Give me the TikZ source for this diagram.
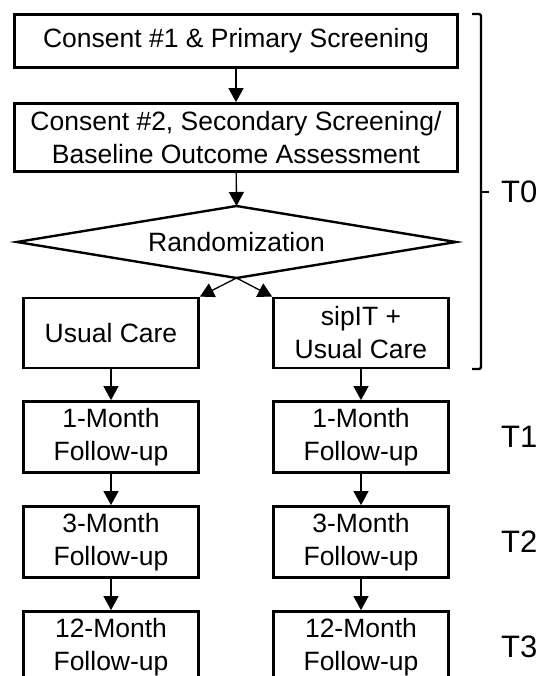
\documentclass[tikz,border=0pt]{standalone}
\usepackage{fontspec}
\setmainfont{Liberation Sans}
\usetikzlibrary{arrows.meta}
\begin{document}
\begin{tikzpicture}[x=1pt,y=-1pt,
  txt/.style={font=\fontsize{26.5}{33}\selectfont},
  box/.style={draw, line width=2.8pt, inner sep=0pt, align=center, txt},
  wide/.style={box, minimum width=443pt},
  narrow/.style={box, minimum width=175pt, minimum height=70pt},
  fup/.style={box, minimum width=175pt, minimum height=71pt},
  arr/.style={line width=1.3pt, -{Triangle[length=14pt,width=15pt]}},
  brk/.style={line width=2.4pt, rounded corners=1.5pt},
  tlabel/.style={font=\fontsize{31}{36}\selectfont, anchor=west, inner sep=0pt}]
\useasboundingbox (0,0) rectangle (539,676);
\fill[white] (0,0) rectangle (539,676);

\node[wide, minimum height=53pt] (c1) at (236,41) {Consent \#1 \& Primary Screening};
\node[wide, minimum height=68pt] (c2) at (236,137.5) {Consent \#2, Secondary Screening/\\Baseline Outcome Assessment};

\coordinate (dl) at (17,242);
\coordinate (dt) at (236.5,206);
\coordinate (dr) at (456,242);
\coordinate (db) at (236.5,278);
\draw[line width=2.4pt, line join=miter] (dl) -- (dt) -- (dr) -- (db) -- cycle;
\node[txt, inner sep=0pt] (rnd) at (236.5,242) {Randomization};

\node[narrow] (uc) at (111,333) {Usual Care};
\node[narrow] (sip) at (361,333) {sipIT +\\Usual Care};

\node[fup] (l1) at (111,437) {1-Month\\Follow-up};
\node[fup] (l2) at (111,542) {3-Month\\Follow-up};
\node[fup] (l3) at (111,647) {12-Month\\Follow-up};
\node[fup] (r1) at (361,437) {1-Month\\Follow-up};
\node[fup] (r2) at (361,542) {3-Month\\Follow-up};
\node[fup] (r3) at (361,647) {12-Month\\Follow-up};

\draw[arr] (c1) -- (c2);
\draw[arr] (c2) -- (dt);
\draw[arr] (db) -- (uc.north east);
\draw[arr] (db) -- (sip.north west);
\draw[arr] (uc) -- (l1);
\draw[arr] (l1) -- (l2);
\draw[arr] (l2) -- (l3);
\draw[arr] (sip) -- (r1);
\draw[arr] (r1) -- (r2);
\draw[arr] (r2) -- (r3);

\coordinate (bt) at (481,14);
\coordinate (bb) at (481,369);
\coordinate (bm) at (481,192);
\draw[brk] (472,14) -- (bt) -- (bb) -- (472,369);
\draw[line width=2.4pt] (bm) -- (489,192);

\node[tlabel] (t0) at (501,192) {T0};
\node[tlabel] (t1) at (501,437) {T1};
\node[tlabel] (t2) at (501,542) {T2};
\node[tlabel] (t3) at (501,647) {T3};
\end{tikzpicture}
\end{document}
